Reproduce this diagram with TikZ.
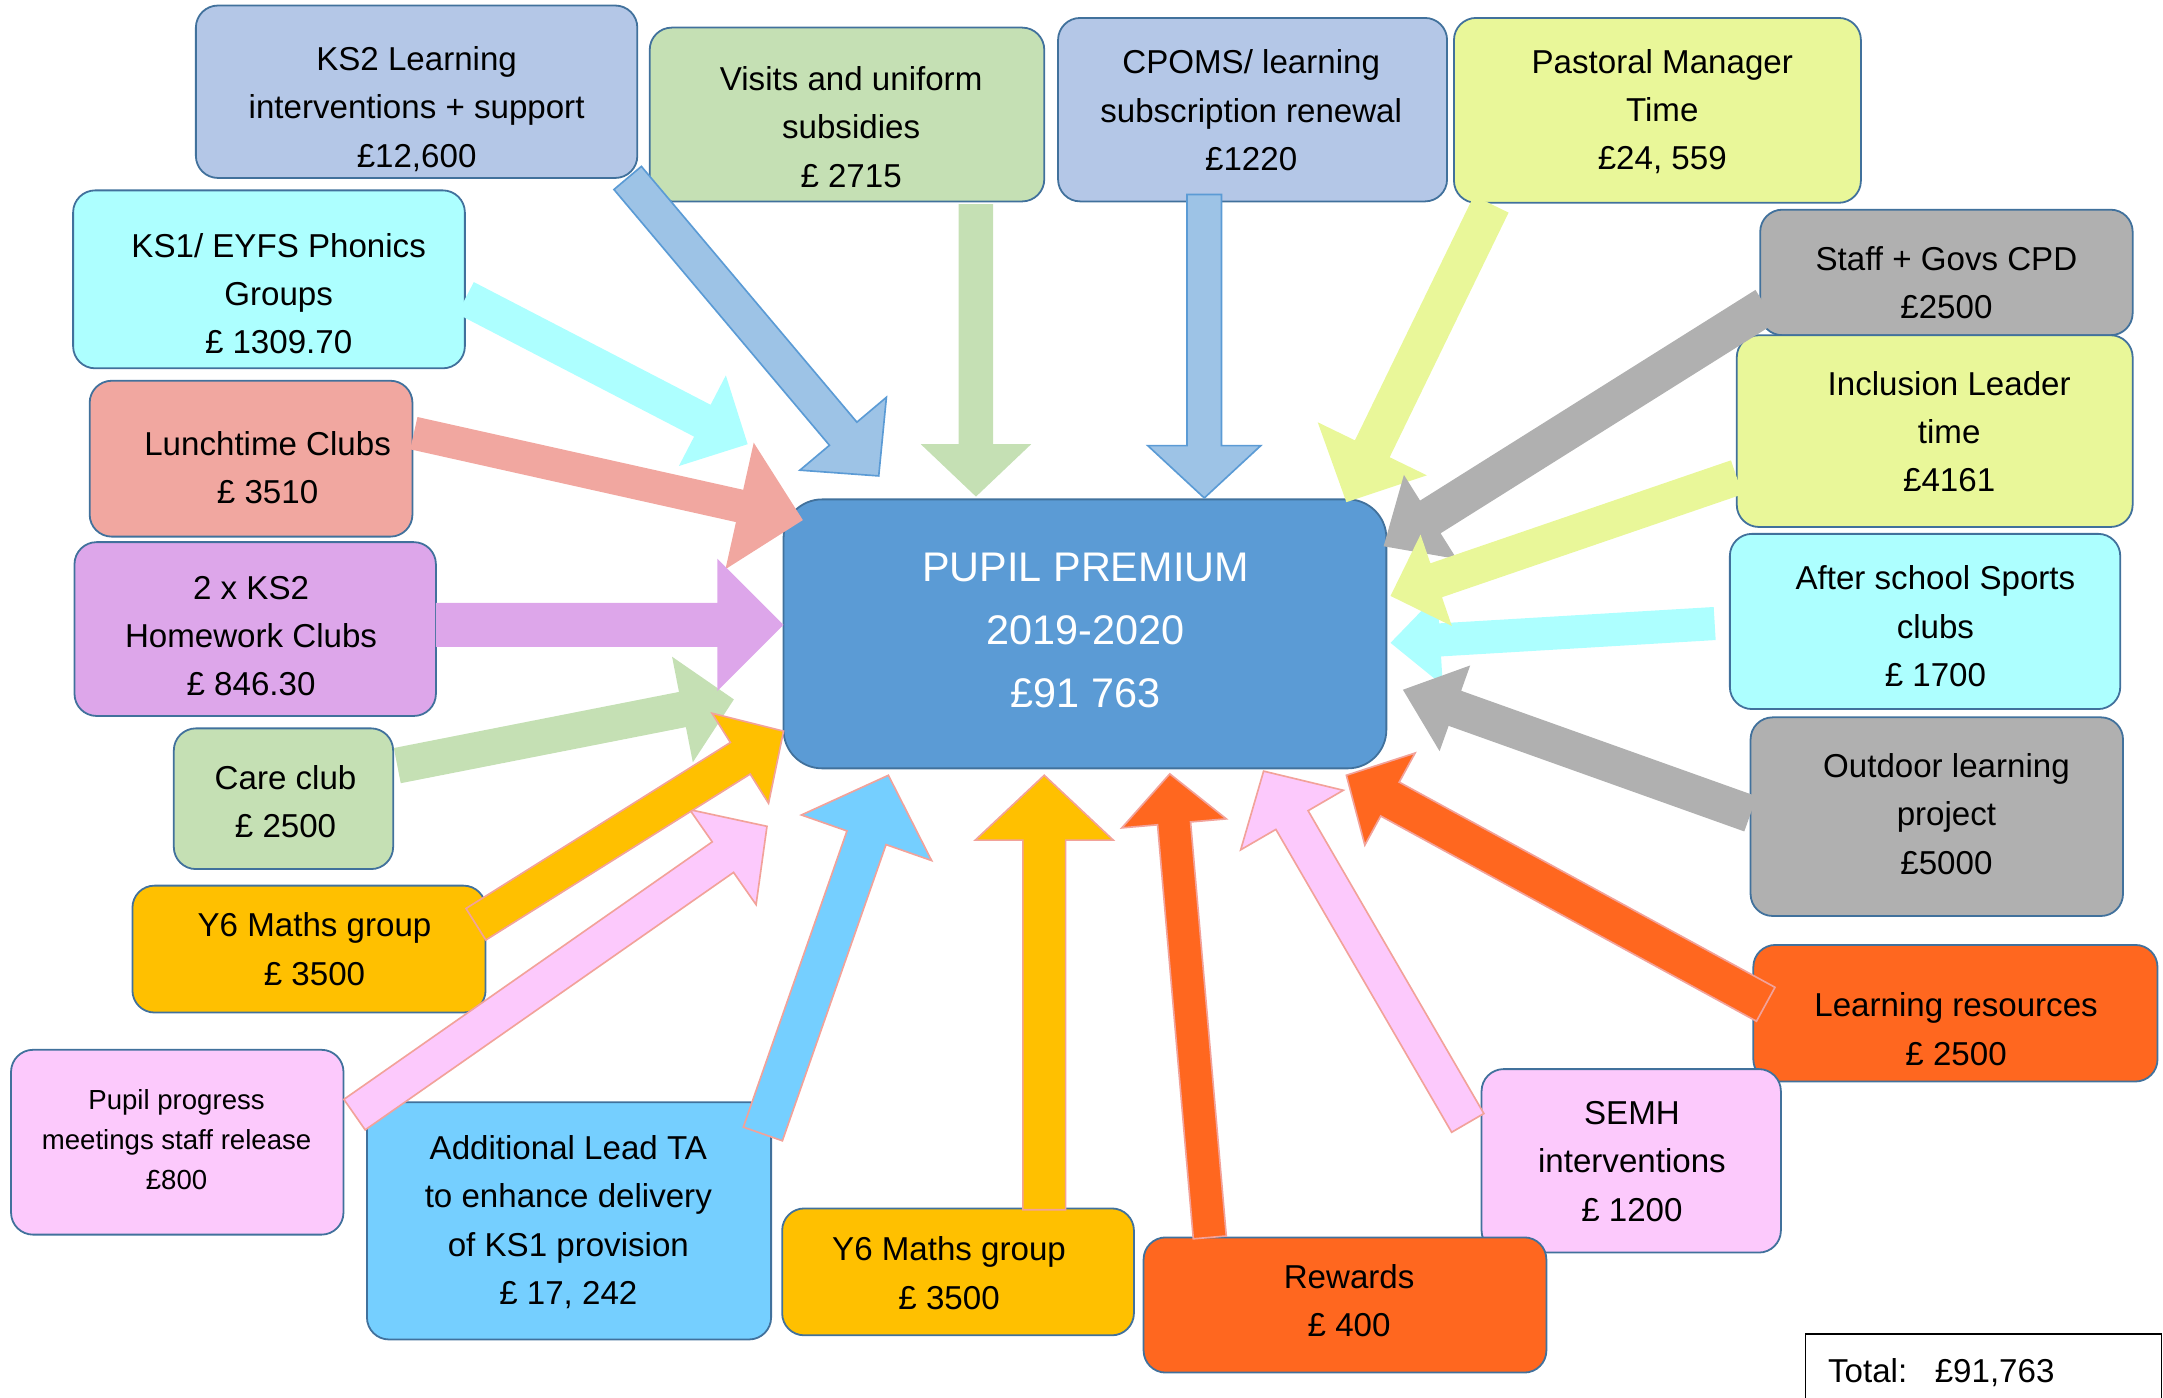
\documentclass[tikz,border=0pt]{standalone}
\usepackage{fontspec}
\setmainfont{Liberation Sans}
\usetikzlibrary{calc,fit}
\definecolor{bx}{HTML}{41719C}
\definecolor{lblue}{HTML}{B4C7E7}
\definecolor{lgreen}{HTML}{C5E0B4}
\definecolor{lyellow}{HTML}{E9F799}
\definecolor{lgray}{HTML}{B0B0B0}
\definecolor{lcyan}{HTML}{ADFFFF}
\definecolor{orng}{HTML}{FF671F}
\definecolor{lpink}{HTML}{FCC9FC}
\definecolor{gold}{HTML}{FFC000}
\definecolor{skyb}{HTML}{75CFFF}
\definecolor{lpurple}{HTML}{DDA6EA}
\definecolor{salmon}{HTML}{F1A7A0}
\definecolor{cblue}{HTML}{5B9BD5}
\definecolor{ablue}{HTML}{9DC3E6}
\definecolor{pinkline}{HTML}{F2A29A}
\tikzset{
  box/.style={draw=bx, line width=1.3pt, rounded corners=16pt, inner sep=0pt},
  txt/.style={align=center, font=\fontsize{24}{35}\selectfont, inner sep=0pt},
  smalltxt/.style={align=center, font=\fontsize{20}{29}\selectfont, inner sep=0pt},
  bigtxt/.style={align=center, text=white, font=\fontsize{30}{46}\selectfont, inner sep=0pt},
  plainarrow/.style={fill=#1},
  edgearrow/.style={fill=#1, draw=pinkline, line width=1.2pt, line join=miter},
}
% #1 tail coordinate, #2 tip coordinate, #3 half shaft width, #4 half head width, #5 head length, #6 style
\newcommand{\blockarrow}[6]{%
  \coordinate (#1n) at ($(#2)!#5!(#1)$);
  \path[#6] ($(#1)!#3!90:(#2)$) -- ($(#1n)!#3!90:(#2)$) -- ($(#1n)!#4!90:(#2)$) -- (#2)
    -- ($(#1n)!#4!-90:(#2)$) -- ($(#1n)!#3!-90:(#2)$) -- ($(#1)!#3!-90:(#2)$) -- cycle;
}
\begin{document}
\begin{tikzpicture}[x=1pt,y=-1pt]
\useasboundingbox (0,0) rectangle (1568,1013);

% ---------- boxes ----------
\node[box, fill=lblue, fit={(142,4) (462,129)}] (ks2) {};
\node[txt] (ks2t) at (302,79) {KS2 Learning\\interventions + support\\£12,600};

\node[box, fill=lgreen, fit={(471,20) (757,146)}] (visits) {};
\node[txt] (visitst) at (617,92) {Visits and uniform\\subsidies\\£ 2715};

\node[box, fill=lblue, fit={(767,13) (1049,146)}] (cpoms) {};
\node[txt] (cpomst) at (907,80) {CPOMS/ learning\\subscription renewal\\£1220};

\node[box, fill=lyellow, fit={(1054,13) (1349,147)}] (past) {};
\node[txt] (pastt) at (1205,81) {Pastoral Manager\\Time\\£24, 559};

\node[box, fill=lgray, fit={(1276,152) (1546,243)}] (staff) {};
\node[txt] (stafft) at (1411,205) {Staff + Govs CPD\\£2500};

\node[box, fill=lyellow, fit={(1259,243) (1546,382)}] (incl) {};
\node[txt] (inclt) at (1413,313) {Inclusion Leader\\time\\£4161};

\node[box, fill=lcyan, fit={(1254,387) (1537,514)}] (after) {};
\node[txt] (aftert) at (1403,454) {After school Sports\\clubs\\£ 1700};

\node[box, fill=lgray, fit={(1269,520) (1539,664)}] (outd) {};
\node[txt] (outdt) at (1411,590) {Outdoor learning\\project\\£5000};

\node[box, fill=orng, fit={(1271,685) (1564,784)}] (lres) {};
\node[txt] (lrest) at (1418,746) {Learning resources\\£ 2500};

\node[box, fill=lpink, fit={(1074,775) (1291,908)}] (semh) {};
\node[txt] (semht) at (1183,842) {SEMH\\interventions\\£ 1200};

\node[box, fill=orng, fit={(829,897) (1121,995)}] (rew) {};
\node[txt] (rewt) at (978,943) {Rewards\\£ 400};

\node[box, fill=gold, fit={(567,876) (822,968)}] (y6b) {};
\node[txt] (y6bt) at (688,923) {Y6 Maths group\\£ 3500};

\node[box, fill=skyb, fit={(266,799) (559,971)}] (addta) {};
\node[txt] (addtat) at (412,886) {Additional Lead TA\\to enhance delivery\\of KS1 provision\\£ 17, 242};

\node[box, fill=lpink, fit={(8,761) (249,895)}] (pupil) {};
\node[smalltxt] (pupilt) at (128,826) {Pupil progress\\meetings staff release\\£800};

\node[box, fill=gold, fit={(96,642) (352,734)}] (y6l) {};
\node[txt] (y6lt) at (228,688) {Y6 Maths group\\£ 3500};

\node[box, fill=lgreen, fit={(126,528) (285,630)}] (care) {};
\node[txt] (caret) at (207,581) {Care club\\£ 2500};

\node[box, fill=lpurple, fit={(54,393) (316,519)}] (hw) {};
\node[txt] (hwt) at (182,461) {2 x KS2\\Homework Clubs\\£ 846.30};

\node[box, fill=salmon, fit={(65,276) (299,389)}] (lunch) {};
\node[txt] (luncht) at (194,339) {Lunchtime Clubs\\£ 3510};

\node[box, fill=lcyan, fit={(53,138) (337,267)}] (ks1) {};
\node[txt] (ks1t) at (202,213) {KS1/ EYFS Phonics\\Groups\\£ 1309.70};

\node[box, fill=cblue, rounded corners=28pt, fit={(568,362) (1005,557)}] (pp) {};
\node[bigtxt] (ppt) at (787,457) {PUPIL PREMIUM\\2019-2020\\£91 763};

\node[draw=black, line width=1pt, inner sep=0pt, fit={(1309,967) (1567,1020)}] (total) {};
\node[txt, anchor=west] (totalt) at (1325,995) {Total:\ \ \ £91,763};

% ---------- arrow coordinates ----------
\coordinate (a1t) at (455,129);   \coordinate (a1h) at (637,345);
\coordinate (a2t) at (707.5,148); \coordinate (a2h) at (707.5,360);
\coordinate (a3t) at (873,141);   \coordinate (a3h) at (873,361);
\coordinate (a4t) at (1081,148);  \coordinate (a4h) at (976,364);
\coordinate (a5t) at (1280,222);  \coordinate (a5h) at (1003,396);
\coordinate (a6t) at (1259,346);  \coordinate (a6h) at (1008,432);
\coordinate (a7t) at (1243,452);  \coordinate (a7h) at (1008,466);
\coordinate (a8t) at (1269,590);  \coordinate (a8h) at (1017,500);
\coordinate (a9t) at (1280,728);  \coordinate (a9h) at (976,562);
\coordinate (a10t) at (1064,814); \coordinate (a10h) at (916,559);
\coordinate (a11t) at (877,897);  \coordinate (a11h) at (848,561);
\coordinate (a12t) at (757,877);  \coordinate (a12h) at (757,562);
\coordinate (a13t) at (553,822);  \coordinate (a13h) at (644,562);
\coordinate (a14t) at (257,808);  \coordinate (a14h) at (556,599);
\coordinate (a15t) at (345,670);  \coordinate (a15h) at (568,530);
\coordinate (a16t) at (288,555);  \coordinate (a16h) at (532,507);
\coordinate (a17t) at (316,453);  \coordinate (a17h) at (568,453);
\coordinate (a18t) at (300,314);  \coordinate (a18h) at (582,377);
\coordinate (a19t) at (337.5,216);\coordinate (a19h) at (542,322);

% ---------- arrows ----------
\blockarrow{a19t}{a19h}{13pt}{37pt}{37pt}{plainarrow=lcyan}
\blockarrow{a18t}{a18h}{12pt}{47pt}{47pt}{plainarrow=salmon}
\blockarrow{a1t}{a1h}{13pt}{41pt}{40pt}{fill=ablue, draw=cblue, line width=1.2pt}
\blockarrow{a2t}{a2h}{12.5pt}{40pt}{38pt}{plainarrow=lgreen}
\blockarrow{a3t}{a3h}{12.5pt}{41pt}{38pt}{fill=ablue, draw=cblue, line width=1.2pt}
\blockarrow{a4t}{a4h}{14pt}{44pt}{43pt}{plainarrow=lyellow}
\blockarrow{a5t}{a5h}{14pt}{36pt}{40pt}{plainarrow=lgray}
\blockarrow{a7t}{a7h}{12pt}{33pt}{36pt}{plainarrow=lcyan}
\blockarrow{a8t}{a8h}{13.5pt}{33pt}{40pt}{plainarrow=lgray}
\blockarrow{a6t}{a6h}{13pt}{35pt}{35pt}{plainarrow=lyellow}
\blockarrow{a9t}{a9h}{14pt}{38pt}{36pt}{edgearrow=orng}
\blockarrow{a10t}{a10h}{13.5pt}{43pt}{41pt}{edgearrow=lpink}
\blockarrow{a11t}{a11h}{12pt}{38pt}{36pt}{edgearrow=orng}
\blockarrow{a12t}{a12h}{15.5pt}{50pt}{47pt}{edgearrow=gold}
\blockarrow{a13t}{a13h}{15pt}{50pt}{48pt}{edgearrow=skyb}
\blockarrow{a16t}{a16h}{13pt}{39pt}{38pt}{plainarrow=lgreen}
\blockarrow{a17t}{a17h}{16pt}{48pt}{48pt}{plainarrow=lpurple}
\blockarrow{a14t}{a14h}{13.5pt}{42pt}{39pt}{edgearrow=lpink}
\blockarrow{a15t}{a15h}{13.5pt}{38.5pt}{37pt}{edgearrow=gold}
\end{tikzpicture}
\end{document}
